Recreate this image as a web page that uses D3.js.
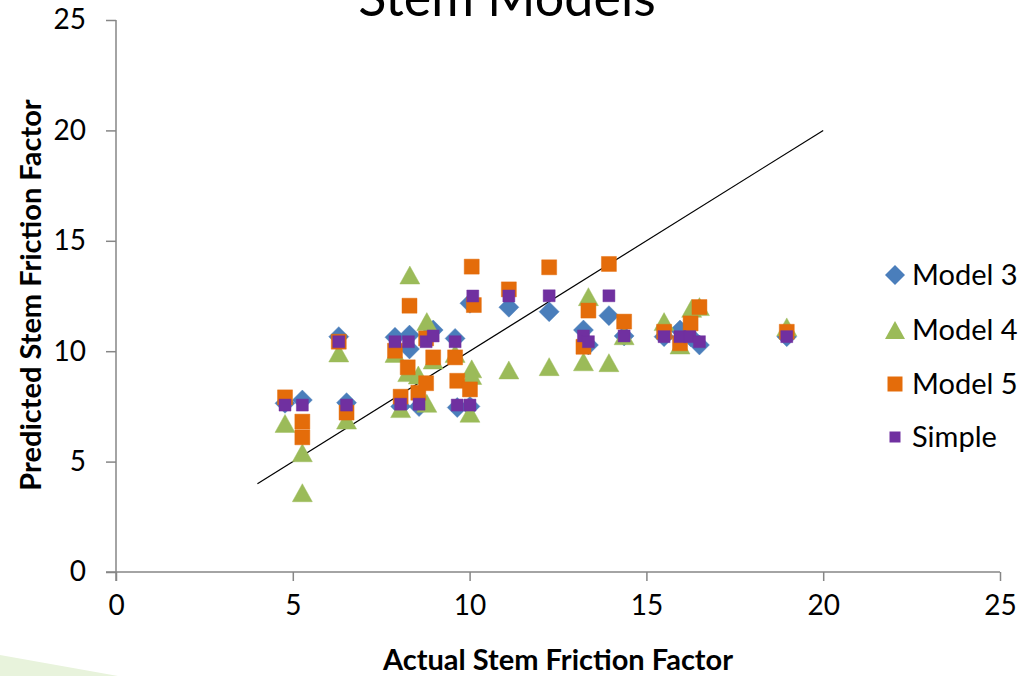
<!DOCTYPE html>
<html>
<head>
<meta charset="utf-8">
<script src="https://cdn.jsdelivr.net/npm/d3@7"></script>
<style>
  html, body { margin: 0; padding: 0; background: #fff; overflow: hidden; }
  svg { display: block; font-family: Lato, "Open Sans", sans-serif; }
</style>
</head>
<body>
<svg id="chart" width="1027" height="676"></svg>
<script>
// Actual vs. predicted stem friction factor, one [actual, predicted] pair per test
const model3 = [
  [4.78, 7.64], [5.27, 7.79], [6.30, 10.66], [6.52, 7.67], [7.89, 10.63],
  [8.05, 7.50], [8.30, 10.73], [8.30, 10.10], [8.57, 7.49], [8.97, 10.96],
  [9.59, 10.58], [9.65, 7.45], [10.01, 12.17], [10.01, 7.50], [11.11, 11.99],
  [12.25, 11.79], [13.22, 10.96], [13.36, 10.28], [13.94, 11.61], [14.37, 10.69],
  [15.50, 10.66], [15.95, 10.96], [16.25, 10.66], [16.50, 10.28], [18.97, 10.66]
];
const model4 = [
  [4.78, 6.73], [5.27, 5.40], [5.27, 3.59], [6.30, 9.92], [6.52, 6.88],
  [7.89, 9.90], [8.05, 7.40], [8.25, 9.03], [8.31, 13.45], [8.55, 8.92],
  [8.79, 11.34], [8.79, 7.64], [8.97, 9.60], [9.59, 9.90], [10.06, 9.20],
  [10.06, 8.90], [10.01, 7.19], [11.11, 9.15], [12.25, 9.30], [13.22, 9.52],
  [13.36, 12.47], [13.94, 9.48], [14.37, 10.70], [15.50, 11.34], [15.95, 10.28],
  [16.28, 11.94], [16.50, 12.02], [18.97, 11.10]
];
const model5 = [
  [4.78, 7.91], [5.27, 6.81], [5.27, 6.10], [6.30, 10.43], [6.52, 7.22],
  [7.89, 10.02], [8.05, 7.94], [8.25, 9.27], [8.30, 12.06], [8.55, 8.12],
  [8.77, 10.58], [8.77, 8.55], [8.97, 9.72], [9.59, 9.72], [9.65, 8.66],
  [10.01, 8.27], [10.06, 13.83], [10.12, 12.09], [11.11, 12.80], [12.25, 13.80],
  [13.22, 10.20], [13.36, 11.84], [13.94, 13.95], [14.37, 11.34], [15.50, 10.88],
  [15.95, 10.36], [16.25, 11.26], [16.50, 12.00], [18.97, 10.88]
];
const simple = [
  [4.78, 7.56], [5.27, 7.56], [6.30, 10.43], [6.52, 7.56], [7.89, 10.43],
  [8.05, 7.60], [8.27, 10.43], [8.57, 7.60], [8.77, 10.43], [8.97, 10.69],
  [9.59, 10.43], [9.65, 7.56], [10.01, 7.56], [10.09, 12.50], [11.11, 12.50],
  [12.25, 12.51], [13.22, 10.69], [13.36, 10.43], [13.94, 12.51], [14.37, 10.69],
  [15.50, 10.66], [15.95, 10.66], [16.23, 10.66], [16.50, 10.43], [18.97, 10.66]
];
const seriesNames = ["Model 3", "Model 4", "Model 5", "Simple"];
const referenceLine = [[4, 4], [20, 20]];
const xTicks = [0, 5, 10, 15, 20, 25];
const yTicks = [0, 5, 10, 15, 20, 25];

const svg = d3.select("#chart");

// slide decoration in the lower-left corner
svg.append("polygon")
  .attr("points", "0,655 118,676 0,676")
  .attr("fill", "#e8f3dc");

const x = d3.scaleLinear().domain([0, 25]).range([116, 1000]);
const y = d3.scaleLinear().domain([0, 25]).range([572, 20]);

const axisColor = "#868686";

// axes
const xAxis = svg.append("g").attr("transform", `translate(0,${y(0)})`)
  .call(d3.axisBottom(x).tickValues(xTicks).tickSize(9).tickPadding(14).tickSizeOuter(0));
const yAxis = svg.append("g").attr("transform", `translate(${x(0)},0)`)
  .call(d3.axisLeft(y).tickValues(yTicks).tickSize(10).tickPadding(20).tickSizeOuter(0));
[xAxis, yAxis].forEach(g => {
  g.select(".domain").attr("stroke", axisColor).attr("stroke-width", 1.5);
  g.selectAll(".tick line").attr("stroke", axisColor).attr("stroke-width", 1.5);
  g.selectAll(".tick text").attr("fill", "#000")
    .style("font-size", "28px").style("font-family", "Lato, 'Open Sans', sans-serif");
});
// axis lines reach out to meet the neighbouring tick marks
xAxis.select(".domain").attr("d", `M${x(0) - 10},0H${x(25)}`);
yAxis.select(".domain").attr("d", `M0,${y(0) + 9}V${y(25)}`);
xAxis.selectAll(".tick text").attr("dy", "0.71em");

// reference line y = x
svg.append("line")
  .attr("x1", x(referenceLine[0][0])).attr("y1", y(referenceLine[0][1]))
  .attr("x2", x(referenceLine[1][0])).attr("y2", y(referenceLine[1][1]))
  .attr("stroke", "#000").attr("stroke-width", 1.2);

// marker shapes, centred at the origin
const shapes = {
  diamond: s => `M0,${-s}L${s},0L0,${s}L${-s},0Z`,
  triangle: s => `M0,${-s * 0.9}L${s},${s * 0.9}L${-s},${s * 0.9}Z`,
  square: s => `M${-s},${-s}H${s}V${s}H${-s}Z`
};

const series = [
  { name: seriesNames[0], data: model3, color: "#4a7ebb", shape: "diamond", size: 10, legendSize: 10 },
  { name: seriesNames[1], data: model4, color: "#9bbb59", shape: "triangle", size: 10, legendSize: 10 },
  { name: seriesNames[2], data: model5, color: "#e46c0a", shape: "square", size: 7.5, legendSize: 7.5 },
  { name: seriesNames[3], data: simple, color: "#7030a0", shape: "square", size: 6, legendSize: 5.5 }
];

series.forEach(s => {
  svg.append("g").selectAll("path").data(s.data).join("path")
    .attr("transform", d => `translate(${x(d[0])},${y(d[1])})`)
    .attr("d", shapes[s.shape](s.size))
    .attr("fill", s.color)
    .attr("stroke", s.color).attr("stroke-opacity", 0.45).attr("stroke-width", 1);
});

// legend
const legendY = [275, 330, 384, 437];
const legend = svg.append("g");
series.forEach((s, i) => {
  legend.append("path")
    .attr("transform", `translate(895,${legendY[i]})`)
    .attr("d", shapes[s.shape](s.legendSize))
    .attr("fill", s.color);
  legend.append("text")
    .attr("x", 912).attr("y", legendY[i]).attr("dy", "0.35em")
    .style("font-size", "29px").attr("fill", "#000")
    .text(s.name);
});

// axis titles
svg.append("text")
  .attr("x", 558).attr("y", 660).attr("dy", "0.35em")
  .attr("text-anchor", "middle")
  .style("font-size", "29px").style("font-weight", "bold")
  .text("Actual Stem Friction Factor");
svg.append("text")
  .attr("transform", "translate(31,295) rotate(-90)")
  .attr("dy", "0.35em")
  .attr("text-anchor", "middle")
  .style("font-size", "29px").style("font-weight", "bold")
  .text("Predicted Stem Friction Factor");

// chart title, running off the top edge of the page
svg.append("text")
  .attr("x", 507).attr("y", 16)
  .attr("text-anchor", "middle")
  .style("font-size", "52px")
  .text("Stem Models");
</script>
</body>
</html>
